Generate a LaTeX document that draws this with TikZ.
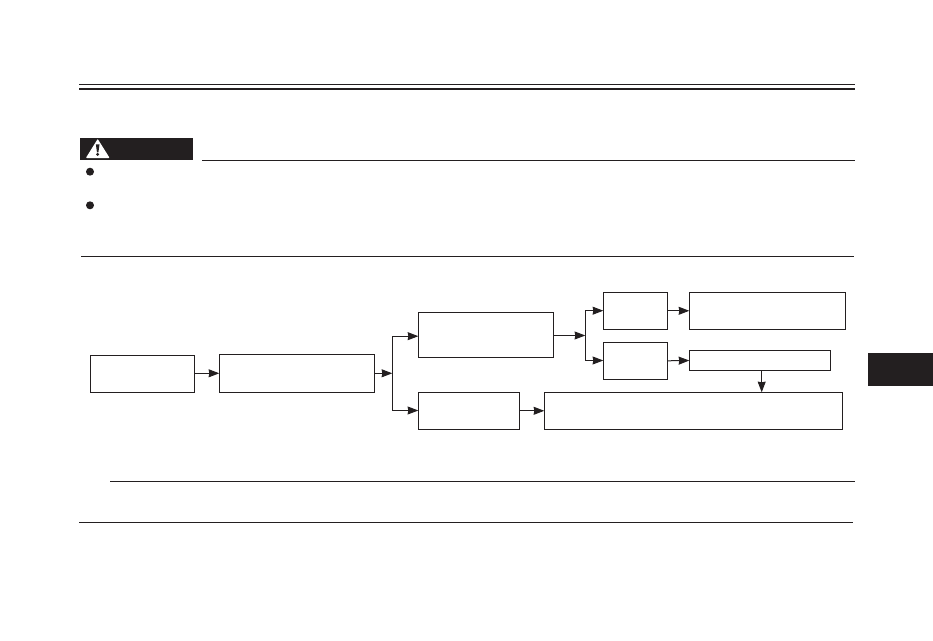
\documentclass[tikz,border=0pt]{standalone}
\usetikzlibrary{arrows.meta}
\definecolor{ink}{HTML}{231F20}
\tikzset{
  sz/.style 2 args={minimum width=#1*0.75pt,minimum height=#2*0.75pt},
  flowbox/.style={draw=ink,line width=0.75pt,fill=white,inner sep=0pt,outer sep=0pt},
  conn/.style={draw=ink,line width=0.75pt},
  arr/.style={conn,-{Stealth[length=8pt,width=6pt,inset=0.5pt,color=ink]}},
  thinrule/.style={draw=ink,line width=0.75pt},
  thickrule/.style={draw=ink,line width=2pt},
  dotmark/.style={circle,fill=ink,inner sep=0pt,minimum size=6pt},
}
\begin{document}
\begin{tikzpicture}[x=0.75pt,y=-0.75pt]
\useasboundingbox (0,0) rectangle (933,641);
% rules
\draw[thinrule] (79,84.7) -- (855,84.7);
\draw[thickrule] (79,89) -- (855,89);
\draw[thinrule] (202,160.3) -- (855,160.3);
\draw[thinrule] (81,256.3) -- (854,256.3);
\draw[thinrule] (110,481.3) -- (855,481.3);
\draw[thinrule] (79,522.3) -- (853,522.3);
% warning label
\fill[ink] (80,138) rectangle (193,159.7);
\fill[white,draw=white,line width=0.8pt,line join=round] (97.7,140) -- (108.7,157.5) -- (86.8,157.5) -- cycle;
\fill[ink] (95.9,144.5) -- (99.5,144.5) -- (98.4,152.4) -- (97,152.4) -- cycle;
\fill[ink] (97.7,154.4) circle (1.6);
% bullets
\node[dotmark] (b1) at (90,171.7) {};
\node[dotmark] (b2) at (90,205.3) {};
% tab
\fill[ink] (868,353) rectangle (932.5,385.7);
% boxes
\node[flowbox,sz={104}{37}] (A) at (142.5,373.8) {};
\node[flowbox,sz={155}{38}] (B) at (296.8,373.3) {};
\node[flowbox,sz={134.7}{45}] (C) at (485.7,334.8) {};
\node[flowbox,sz={101}{37}] (D) at (468.8,410.8) {};
\node[flowbox,sz={298}{37}] (E) at (693.3,410.8) {};
\node[flowbox,sz={64.4}{37}] (F) at (635.5,310.8) {};
\node[flowbox,sz={64.4}{37}] (G) at (635.5,360.8) {};
\node[flowbox,sz={156}{37}] (H) at (767.3,310.8) {};
\node[flowbox,sz={141}{20.4}] (I) at (759.8,360.5) {};
% junctions
\coordinate (j1) at (392.3,373.3);
\coordinate (j1t) at (392.3,336.2);
\coordinate (j1b) at (392.3,410.5);
\coordinate (j2) at (585.3,335.5);
\coordinate (j2t) at (585.3,310.7);
\coordinate (j2b) at (585.3,360.5);
\coordinate (k) at (761.7,380);
% connectors
\draw[arr] (A.east |- B.east) -- (B.west);
\draw[arr] (B.east) -- (j1);
\draw[conn] (j1t) -- (j1b);
\draw[arr] (j1t) -- (j1t -| C.west);
\draw[arr] (j1b) -- (j1b -| D.west);
\draw[arr] (D.east) -- (E.west);
\draw[arr] (C.east |- j2) -- (j2);
\draw[conn] (j2t) -- (j2b);
\draw[arr] (j2t) -- (j2t -| F.west);
\draw[arr] (j2b) -- (j2b -| G.west);
\draw[arr] (F.east) -- (H.west);
\draw[arr] (G.east) -- (I.west);
\draw[arr] (k |- I.south) -- (k |- E.north);
\end{tikzpicture}
\end{document}
